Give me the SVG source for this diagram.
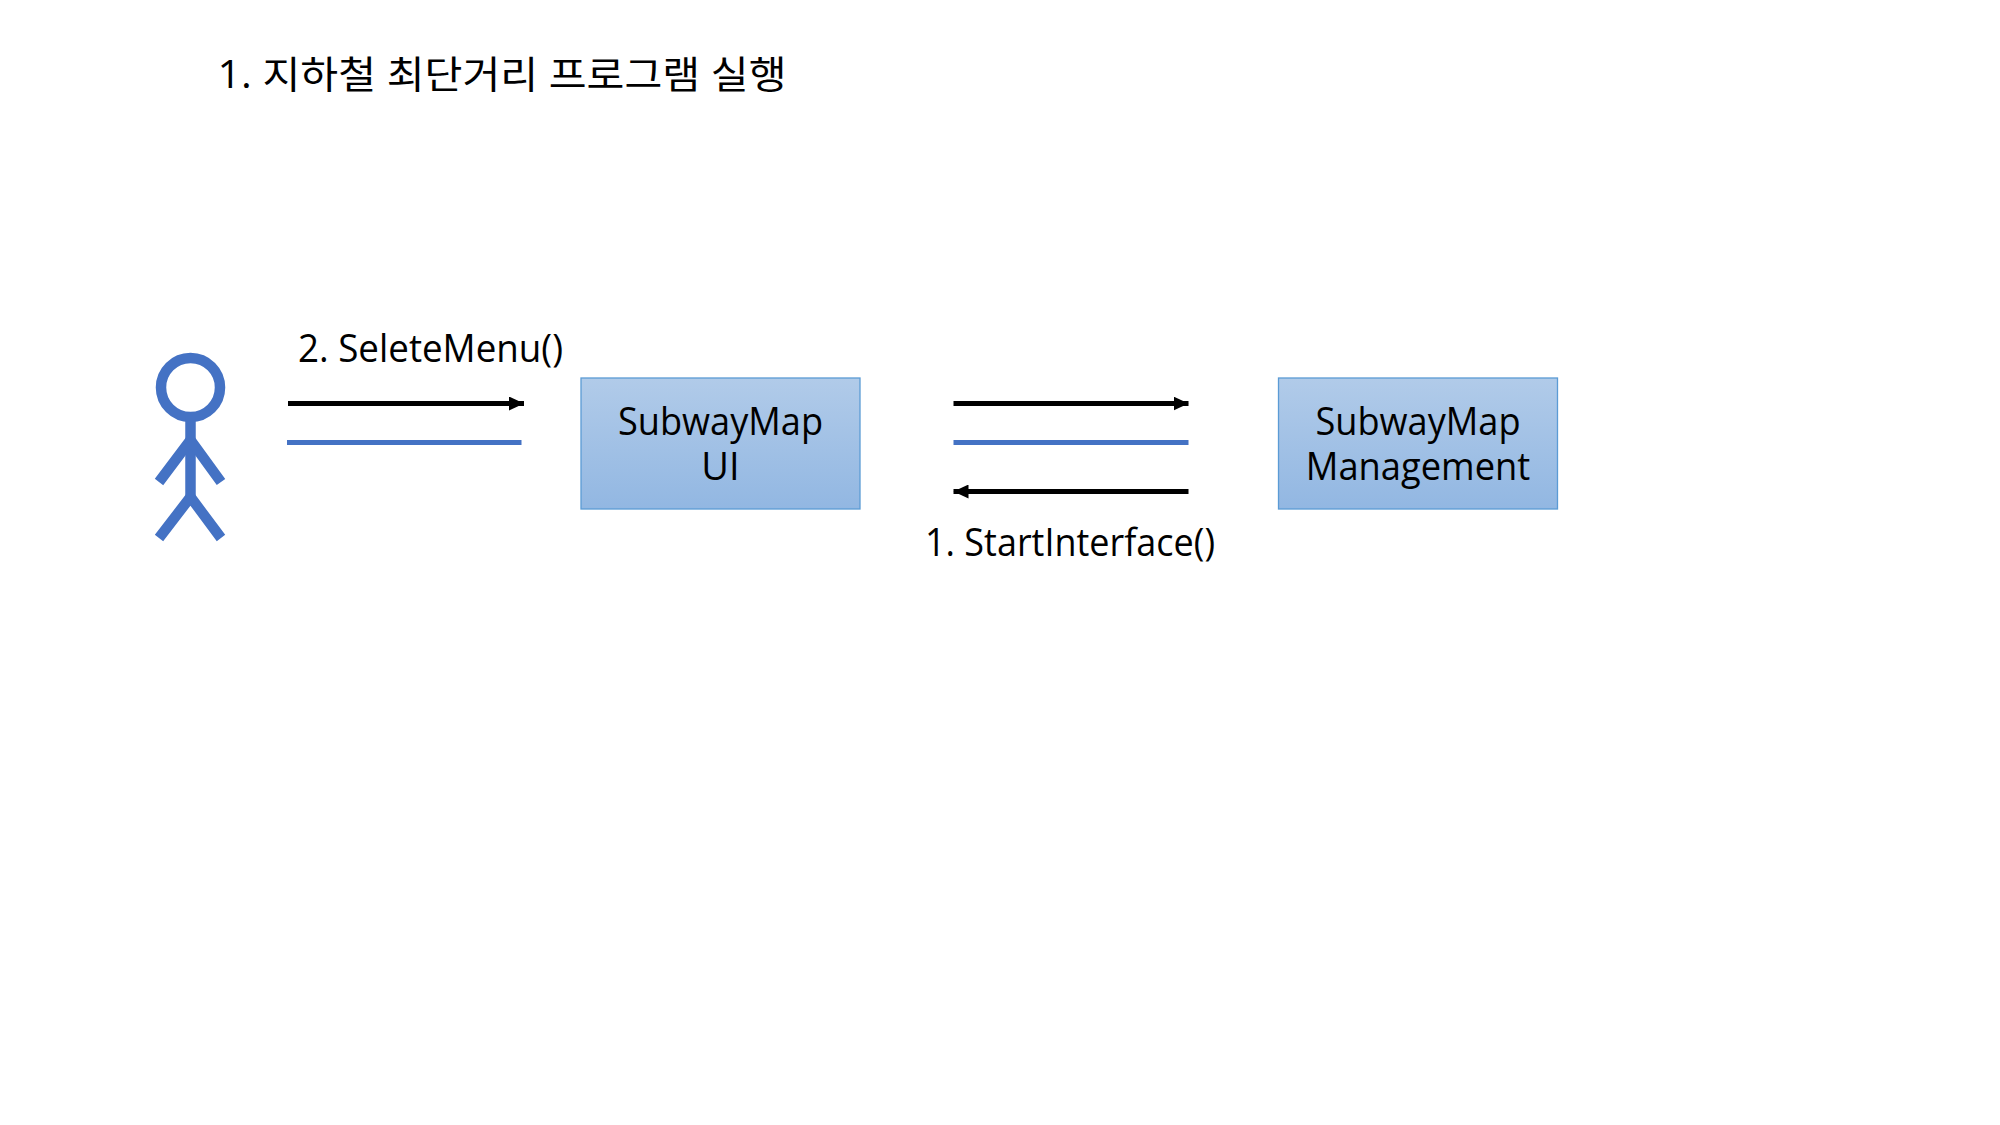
<svg xmlns="http://www.w3.org/2000/svg" width="2000" height="1125" viewBox="0 0 2000 1125">
<style>
text{font-family:"Open Sans","Noto Sans CJK KR",sans-serif;font-size:38px;fill:#000}
.c{text-anchor:middle}
.box{fill:url(#g);stroke:#5B9BD5;stroke-width:1.3}
.actor{fill:none;stroke:#4472C4;stroke-width:10.5}
.m{stroke:#000;stroke-width:5;fill:none}
.r{stroke:#4472C4;stroke-width:5;fill:none}
</style>
<defs>
<linearGradient id="g" x1="0" y1="0" x2="0" y2="1"><stop offset="0" stop-color="#B1CBE9"/><stop offset="1" stop-color="#92B7E2"/></linearGradient>
<marker id="a" markerUnits="userSpaceOnUse" markerWidth="16" markerHeight="14" refX="15" refY="7" orient="auto"><path d="M0 0L15 7L0 14Z" fill="#000"/></marker>
</defs>
<rect width="2000" height="1125" fill="#fff"/>
<text id="title" x="217.5" y="88" textLength="569" lengthAdjust="spacingAndGlyphs">1. 지하철 최단거리 프로그램 실행</text>
<g id="actor" class="actor">
<circle cx="190.5" cy="387.5" r="29.5"/>
<path d="M190.5 417V498"/>
<path d="M159 482L190.5 440L221 482"/>
<path d="M159 538L190.5 497L221 538"/>
</g>
<g id="ui"><rect class="box" x="581" y="378" width="279" height="131"/>
<text class="c" x="720.5" y="435"><tspan textLength="205" lengthAdjust="spacingAndGlyphs">SubwayMap</tspan><tspan x="720.5" dy="45">UI</tspan></text></g>
<g id="mgmt"><rect class="box" x="1278.5" y="378" width="279" height="131"/>
<text class="c" x="1418" y="435"><tspan textLength="205" lengthAdjust="spacingAndGlyphs">SubwayMap</tspan><tspan x="1418" dy="45" textLength="224.5" lengthAdjust="spacingAndGlyphs">Management</tspan></text></g>
<g id="connectors">
<path class="m" d="M288 403.5H524" marker-end="url(#a)"/>
<path class="r" d="M287 442.5H521.5"/>
<path class="m" d="M953.5 403.5H1188.5" marker-end="url(#a)"/>
<path class="r" d="M953.5 442.5H1188.5"/>
<path class="m" d="M1188.5 491.5H953.5" marker-end="url(#a)"/>
</g>
<text id="l2" x="298" y="361.5" textLength="265" lengthAdjust="spacingAndGlyphs">2. SeleteMenu()</text>
<text id="l1" x="925" y="555.5" textLength="290" lengthAdjust="spacingAndGlyphs">1. StartInterface()</text>
</svg>
